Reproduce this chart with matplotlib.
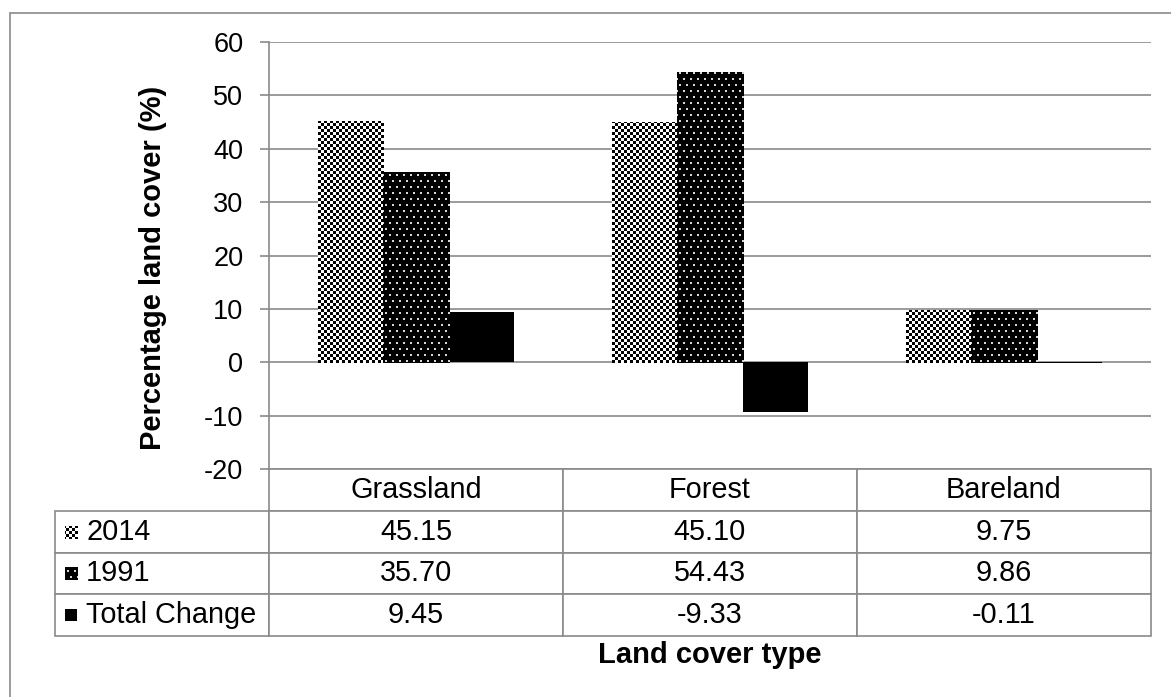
import numpy as np
import matplotlib
matplotlib.use("Agg")
import matplotlib.pyplot as plt
from matplotlib.patches import Rectangle

plt.rcParams["font.family"] = ["Liberation Sans", "DejaVu Sans"]
plt.rcParams["axes.unicode_minus"] = False

# data
categories = ["Grassland", "Forest", "Bareland"]
series_names = ["2014", "1991", "Total Change"]
vals_2014 = [45.15, 45.10, 9.75]
vals_1991 = [35.70, 54.43, 9.86]
vals_change = [9.45, -9.33, -0.11]
yticks = [-20, -10, 0, 10, 20, 30, 40, 50, 60]

W, H = 1171, 697
fig = plt.figure(figsize=(W / 100, H / 100), dpi=100)
ax = fig.add_axes([269 / W, 1 - 469 / H, 882 / W, 427 / H])

grey = "#8a8a8a"

# pixel textures for the patterned bars
yy, xx = np.mgrid[0:H, 0:W]
checker = ((xx // 3 + yy // 3) % 2 == 0)
tex_check = np.where(checker, 0, 255).astype(np.uint8)
tex_check = np.dstack([tex_check] * 3)
dots = (((yy % 12) < 2) & ((xx % 7) < 2)) | ((((yy + 6) % 12) < 2) & (((xx + 3) % 7) < 2))
tex_dots = np.where(dots, 215, 0).astype(np.uint8)
tex_dots = np.dstack([tex_dots] * 3)


def fill_texture(patch, tex):
    im = fig.figimage(tex, xo=0, yo=0, origin="upper", zorder=3)
    im.set_clip_path(patch)


x = np.arange(len(categories))
w = 0.223
b1 = ax.bar(x - w, vals_2014, w, facecolor="none", linewidth=0, zorder=3)
b2 = ax.bar(x, vals_1991, w, facecolor="none", linewidth=0, zorder=3)
b3 = ax.bar(x + w, vals_change, w, color="black", linewidth=0, zorder=3)
for p in b1:
    fill_texture(p, tex_check)
for p in b2:
    fill_texture(p, tex_dots)

ax.set_xlim(-0.5, 2.5)
ax.set_ylim(-20, 60)
ax.set_yticks(yticks)
ax.set_xticks([])
ax.grid(axis="y", color=grey, linewidth=1.2)
ax.set_axisbelow(True)
for s in ["top", "right", "bottom"]:
    ax.spines[s].set_visible(False)
ax.spines["left"].set_color(grey)
ax.spines["left"].set_linewidth(1.2)
ax.tick_params(axis="y", direction="out", length=6.5, width=1.2, color=grey,
               labelsize=19.5, pad=12)

ax.set_ylabel("Percentage land cover (%)", fontsize=21, fontweight="bold")
ax.yaxis.set_label_coords(-0.116, 0.47)
ax.set_xlabel("Land cover type", fontsize=21, fontweight="bold")
ax.xaxis.set_label_coords(0.5, -0.403)

# data table under the plot (first column holds the series names)
rows = [[""] + categories]
for name, vals in zip(series_names, [vals_2014, vals_1991, vals_change]):
    rows.append([name] + ["%.2f" % v for v in vals])

tb_left = (55 - 269) / 882
tb_h = 167 / 427
tbl = ax.table(cellText=rows, colWidths=[214, 294, 294, 294], cellLoc="center",
               bbox=[tb_left, -tb_h, 1 - tb_left, tb_h])
tbl.auto_set_font_size(False)
tbl.set_fontsize(20.8)
for (r, c), cell in tbl.get_celld().items():
    cell.set_edgecolor(grey)
    cell.set_linewidth(1.2)
    if c == 0:
        cell.get_text().set_horizontalalignment("left")
        cell._loc = "left"
        cell.PAD = (86 - 55) / 214
    if r == 0 and c == 0:
        cell.visible_edges = ""

# legend keys inside the row label cells
row_h = tb_h / 4
key_w = 12 / 882
key_h = 12 / 427
key_x = (65 - 269) / 882
for i, tex in enumerate([tex_check, tex_dots, None]):
    yc = -(i + 1.5) * row_h
    key = Rectangle((key_x, yc - key_h / 2), key_w, key_h, transform=ax.transAxes,
                    clip_on=False, linewidth=0,
                    facecolor="black" if tex is None else "none", zorder=5)
    ax.add_patch(key)
    if tex is not None:
        fill_texture(key, tex)

# outer frame
frame = Rectangle((10 / W, -0.1), 1.2, 1 - 13 / H + 0.1, transform=fig.transFigure,
                  fill=False, edgecolor=grey, linewidth=1.2)
fig.add_artist(frame)

fig.savefig("out.png", dpi=100)
